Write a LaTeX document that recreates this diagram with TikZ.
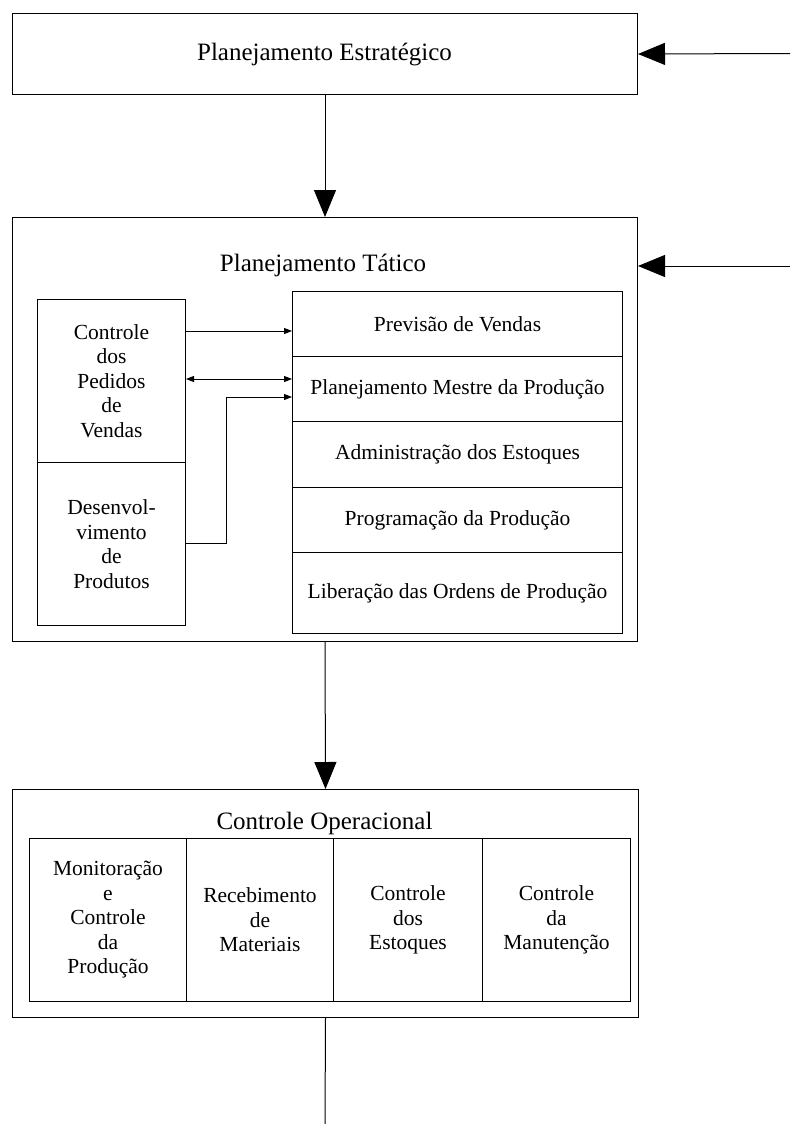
\documentclass[tikz,border=0pt]{standalone}
\usepackage{fontspec}
\setmainfont{Liberation Serif}
\usetikzlibrary{arrows.meta,calc}
\tikzset{
  box/.style={draw, line width=1pt, rectangle, inner sep=0pt, anchor=north west},
  ttl/.style={font=\fontsize{25}{28}\selectfont, inner sep=0pt, anchor=base},
  txt/.style={font=\fontsize{21.5}{24.5}\selectfont, align=center},
  bigarrow/.style={line width=1pt, -{Triangle[length=27pt,width=22pt]}},
  smallarrow/.style={line width=1pt, -{Triangle[length=8pt,width=6pt]}},
  dblarrow/.style={line width=1pt, {Triangle[length=8pt,width=6pt]}-{Triangle[length=8pt,width=6pt]}},
}
\begin{document}
\begin{tikzpicture}[x=1pt,y=-1pt]
\useasboundingbox (0,0) rectangle (790,1124);
% strategic
\node[box, minimum width=625pt, minimum height=81pt] (strat) at (12,13) {};
\node[ttl] (stratT) at (324.5,61) {Planejamento Estratégico};
% tactical
\node[box, minimum width=625pt, minimum height=424pt] (tact) at (12,217) {};
\node[ttl] (tactT) at (323,271) {Planejamento Tático};
\node[box, txt, minimum width=148pt, minimum height=163pt] (cped) at (37,299) {Controle\\dos\\Pedidos\\de\\Vendas};
\node[box, txt, minimum width=148pt, minimum height=163pt] (desv) at (37,462) {Desenvol-\\vimento\\de\\Produtos};
\node[box, txt, minimum width=330pt, minimum height=65pt] (prev) at (292,291) {Previsão de Vendas};
\node[box, txt, minimum width=330pt, minimum height=65pt] (pmp) at (292,356) {Planejamento Mestre da Produção};
\node[box, txt, minimum width=330pt, minimum height=66pt] (adm) at (292,421) {Administração dos Estoques};
\node[box, txt, minimum width=330pt, minimum height=65pt] (prog) at (292,487) {Programação da Produção};
\node[box, txt, minimum width=330pt, minimum height=81pt] (lib) at (292,552) {Liberação das Ordens de Produção};
% operational
\node[box, minimum width=626pt, minimum height=228pt] (op) at (12,789) {};
\node[ttl] (opT) at (324.5,829) {Controle Operacional};
\node[box, txt, minimum width=157pt, minimum height=163pt] (mon) at (29,838) {Monitoração\\e\\Controle\\da\\Produção};
\node[box, txt, minimum width=147pt, minimum height=163pt] (rec) at (186,838) {Recebimento\\de\\Materiais};
\node[box, txt, minimum width=149pt, minimum height=163pt] (est) at (333,838) {Controle\\dos\\Estoques};
\node[box, txt, minimum width=148pt, minimum height=163pt] (man) at (482,838) {Controle\\da\\Manutenção};
% connectors
\coordinate (inS) at (790,53.5);
\coordinate (inT) at (790,266);
\coordinate (outO) at (325,1124);
\coordinate (ya) at (0,331);
\coordinate (yb) at (0,379);
\coordinate (yc) at (0,397);
\coordinate (yd) at (0,543);
\coordinate (xk) at (226,0);
\draw[bigarrow] (inS) -- (strat.east);
\draw[bigarrow] (strat.south) -- (tact.north);
\draw[bigarrow] (inT) -- (inT -| tact.east);
\draw[bigarrow] (tact.south) -- (op.north);
\draw[line width=1pt] (op.south) -- (outO);
\draw[smallarrow] (cped.east |- ya) -- (prev.west |- ya);
\draw[dblarrow] (cped.east |- yb) -- (pmp.west |- yb);
\draw[smallarrow] (desv.east |- yd) -- (xk |- yd) -- (xk |- yc) -- (pmp.west |- yc);
\end{tikzpicture}
\end{document}
